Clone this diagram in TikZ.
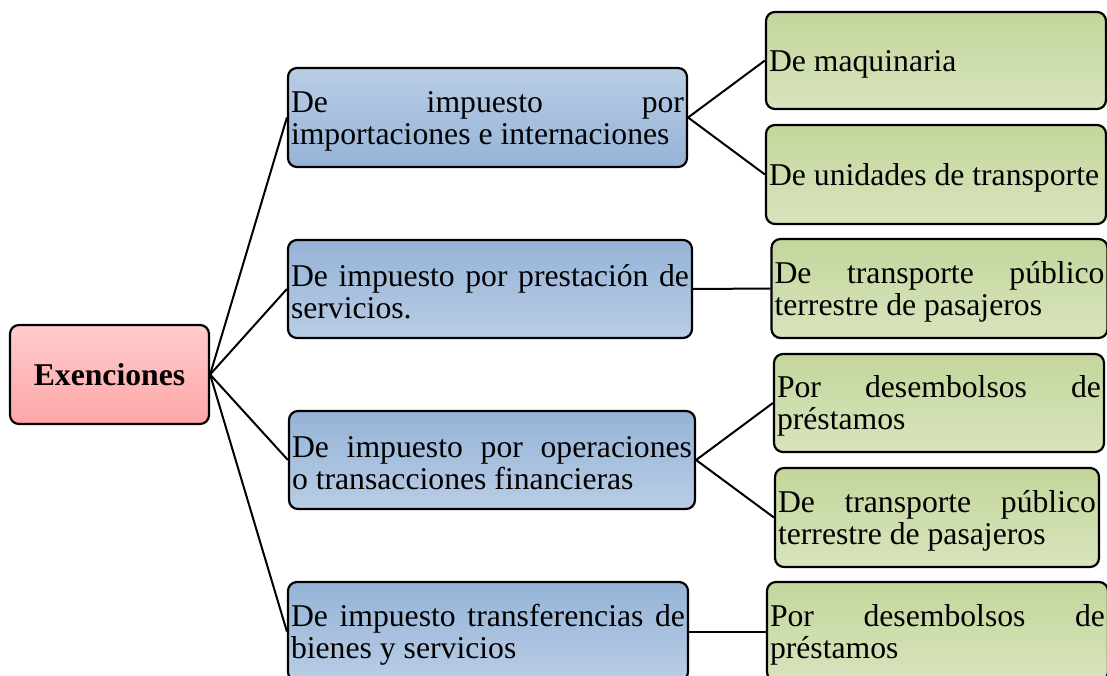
\documentclass[tikz,border=0pt]{standalone}
\usepackage{fontspec}
\setmainfont{Liberation Serif}
\usepackage{xcolor}
\usepackage{tikz}
\usetikzlibrary{calc}
\usetikzlibrary{shapes}
\usetikzlibrary{positioning}
\definecolor{azulosc}{HTML}{95B3D7}
\definecolor{azulcla}{HTML}{B9CDE5}
\definecolor{verdeosc}{HTML}{C3D69B}
\definecolor{verdecla}{HTML}{D8E4BD}
\definecolor{rosacla}{HTML}{FFCCCC}
\definecolor{rosaosc}{HTML}{FFA6A8}
\newcommand{\cajafont}{\fontsize{31.7}{32}\selectfont\hyphenpenalty=10000\tolerance=10000\relax}
\tikzset{>=latex}
\tikzset{caja/.style = {rectangle, draw=black, line width=2.2pt, rounded corners=9pt, inner xsep=3pt, inner ysep=0pt, font=\cajafont}}
\tikzset{texto/.style = {caja, align=justify, execute at begin node={\rule{0pt}{28pt}}}}
\tikzset{azul/.style = {texto, top color=azulosc, bottom color=azulcla}}
\tikzset{azulinv/.style = {texto, top color=azulcla, bottom color=azulosc}}
\tikzset{verde/.style = {texto, top color=verdeosc, bottom color=verdecla}}
\tikzset{rosa/.style = {caja, align=center, top color=rosacla, bottom color=rosaosc}}
\tikzset{enlace/.style = {-, draw=black, line width=2pt}}

\begin{document}
\begin{tikzpicture}[x=1pt, y=-1pt]
\useasboundingbox (0,0) rectangle (1107,675);
\node [rosa, minimum width=199, minimum height=99] (exen) at (109.5, 374.5) {\textbf{Exenciones}};
\node [azulinv, text width=393, minimum height=99] (imp1) at (487.5, 117.5) {De impuesto por\linebreak importaciones e internaciones};
\node [azul, text width=398, minimum height=98] (imp2) at (490, 289) {De impuesto por prestación de\linebreak servicios.};
\node [azul, text width=400, minimum height=98] (imp3) at (492, 460) {De impuesto por operaciones\linebreak o transacciones financieras};
\node [azul, text width=394, minimum height=99] (imp4) at (488, 631.5) {De impuesto transferencias de\linebreak bienes y servicios};
\node [verde, text width=334, minimum height=97] (maq) at (936, 60.5) {De maquinaria};
\node [verde, text width=334, minimum height=99] (unid) at (936, 174.5) {De unidades de transporte};
\node [verde, text width=330, minimum height=99] (trans1) at (939.5, 288.5) {De transporte público\linebreak terrestre de pasajeros};
\node [verde, text width=324, minimum height=98] (desem1) at (939, 403) {Por desembolsos de\linebreak préstamos};
\node [verde, text width=318, minimum height=99] (trans2) at (937, 517.5) {De transporte público\linebreak terrestre de pasajeros};
\node [verde, text width=335, minimum height=99] (desem2) at (937.5, 631.5) {Por desembolsos de\linebreak préstamos};
\draw [enlace] (exen.east) to (imp1.west);
\draw [enlace] (exen.east) to (imp2.west);
\draw [enlace] (exen.east) to (imp3.west);
\draw [enlace] (exen.east) to (imp4.west);
\draw [enlace] (imp1.east) to (maq.west);
\draw [enlace] (imp1.east) to (unid.west);
\draw [enlace] (imp2.east) to (trans1.west);
\draw [enlace] (imp3.east) to (desem1.west);
\draw [enlace] (imp3.east) to (trans2.west);
\draw [enlace] (imp4.east) to (desem2.west);
\end{tikzpicture}
\end{document}
